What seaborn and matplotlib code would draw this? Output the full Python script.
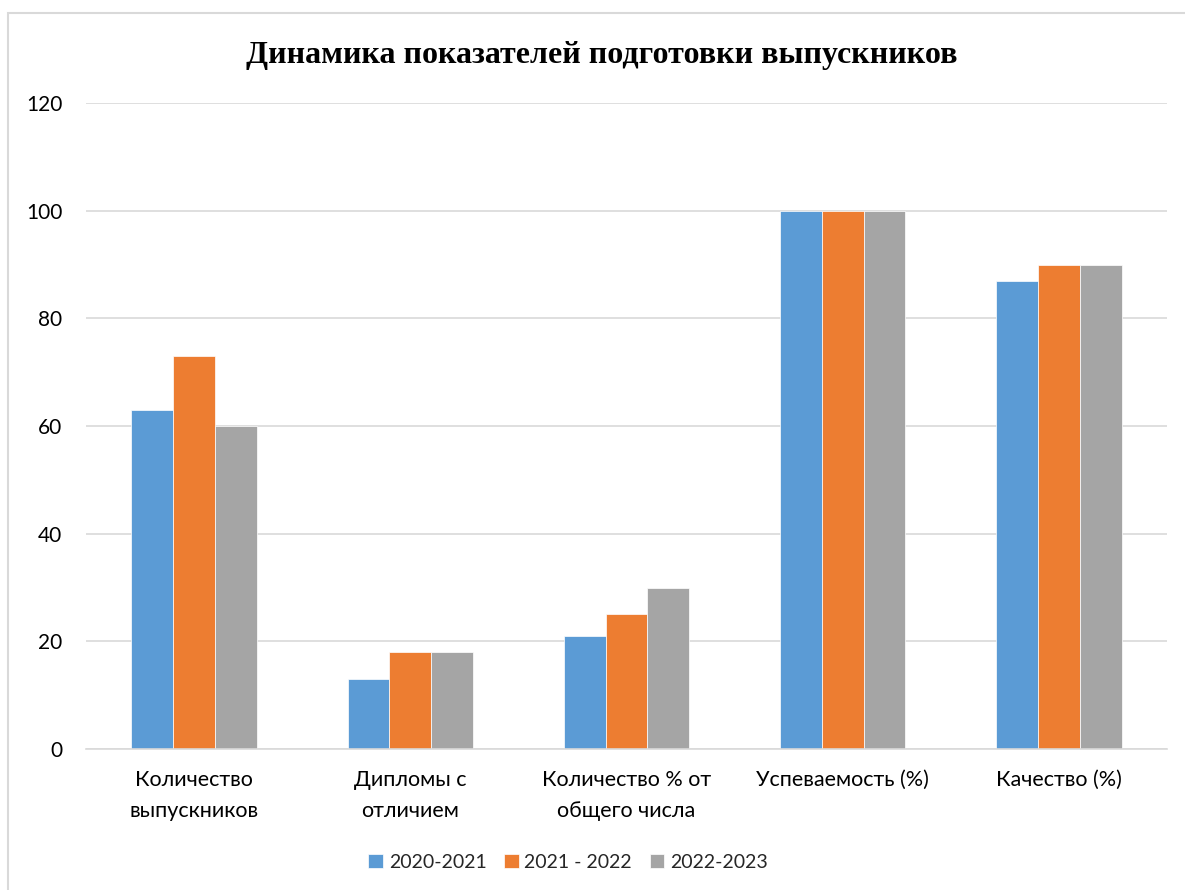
import matplotlib
matplotlib.use("Agg")
import matplotlib.pyplot as plt
import seaborn as sns
import pandas as pd
from matplotlib.patches import Rectangle

categories = ["Количество\nвыпускников", "Дипломы с\nотличием", "Количество % от\nобщего числа",
              "Успеваемость (%)", "Качество (%)"]
series_names = ["2020-2021", "2021 - 2022", "2022-2023"]
values_2020 = [63, 13, 21, 100, 87]
values_2021 = [73, 18, 25, 100, 90]
values_2022 = [60, 18, 30, 100, 90]
colors = ["#5B9BD5", "#ED7D31", "#A5A5A5"]
yticks = [0, 20, 40, 60, 80, 100, 120]

rows = []
for name, vals in zip(series_names, [values_2020, values_2021, values_2022]):
    for c, v in zip(categories, vals):
        rows.append({"cat": c, "series": name, "val": v})
df = pd.DataFrame(rows)

sns.set_theme(style="white")
plt.rcParams['font.family'] = ['Lato', 'DejaVu Sans']

fig = plt.figure(figsize=(11.85, 8.9), dpi=100)
ax = fig.add_axes([86/1185, 1 - 749/890, (1167-86)/1185, (749-103)/890])

sns.barplot(data=df, x="cat", y="val", hue="series", palette=colors,
            width=0.58, ax=ax, edgecolor="white", linewidth=0.5, saturation=1)

ax.set_ylim(0, 120)
ax.set_xlim(-0.5, 4.5)
ax.set_yticks(yticks)
ax.set_yticklabels([str(t) for t in yticks], fontsize=15, color="#000000")
ax.tick_params(axis="y", length=0, pad=17)
ax.tick_params(axis="x", length=0, pad=15, labelsize=15.5, labelcolor="#000000")
for lab in ax.get_xticklabels():
    lab.set_linespacing(1.7)
ax.set_xlabel("")
ax.set_ylabel("")
ax.yaxis.grid(True, color="#D9D9D9", linewidth=1.2)
ax.set_axisbelow(True)
for s in ["top", "right", "left"]:
    ax.spines[s].set_visible(False)
ax.spines["bottom"].set_color("#D9D9D9")
ax.spines["bottom"].set_linewidth(1.2)

leg = ax.legend(loc="center", bbox_to_anchor=(568/1185, 1 - 862/890),
                bbox_transform=fig.transFigure, ncol=3, frameon=False,
                fontsize=14, handlelength=0.75, handleheight=0.75,
                handletextpad=0.3, columnspacing=0.9)

fig.text(602/1185, 1 - 55/890, "Динамика показателей подготовки выпускников",
         ha="center", va="center", fontsize=23, fontweight="bold",
         family=["Liberation Serif", "DejaVu Serif"], color="#000000")

fig.patches.append(Rectangle((8/1185, -0.1), 1.2, 1 - 13/890 + 0.1,
                             transform=fig.transFigure, fill=False,
                             edgecolor="#D9D9D9", linewidth=1.5))

fig.savefig("out.png", dpi=100, facecolor="white")
